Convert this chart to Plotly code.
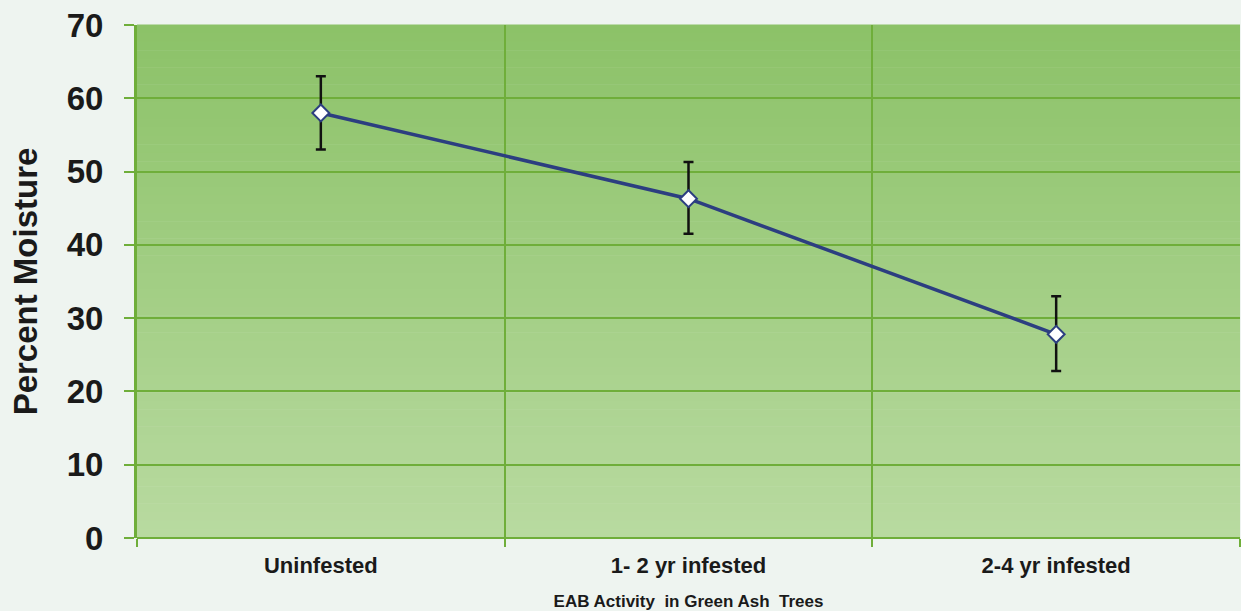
import plotly.graph_objects as go

categories = ["Uninfested", "1- 2 yr infested", "2-4 yr infested"]
moisture = [58.0, 46.3, 27.8]
err_plus = [5.0, 5.0, 5.2]
err_minus = [5.0, 4.8, 5.0]
y_ticks = [0, 10, 20, 30, 40, 50, 60, 70]

GREEN_LINE = "#6fae3a"
FONT = "Liberation Sans, Arial, sans-serif"

fig = go.Figure()
fig.add_trace(go.Scatter(
    x=categories, y=moisture, mode="lines+markers",
    line=dict(color="#2c3e80", width=3.5),
    marker=dict(symbol="diamond", size=13, color="white",
                line=dict(color="#2c3e80", width=2)),
    error_y=dict(type="data", symmetric=False, array=err_plus, arrayminus=err_minus,
                 color="#111111", thickness=2.5, width=5),
    showlegend=False,
))

# vertical gradient background stripes
n = 60
top = (140, 194, 104)
bot = (184, 218, 160)
shapes = []
for i in range(n):
    t = i / (n - 1)
    c = tuple(round(top[k] + (bot[k] - top[k]) * t) for k in range(3))
    shapes.append(dict(type="rect", xref="x domain", yref="y domain",
                       x0=0, x1=1, y0=1 - (i + 1) / n, y1=1 - i / n + 0.001,
                       fillcolor="rgb(%d,%d,%d)" % c, line=dict(width=0),
                       layer="below"))

fig.update_layout(
    width=1241, height=611,
    margin=dict(l=137, r=1, t=25, b=73),
    paper_bgcolor="#eef4f0",
    plot_bgcolor="rgba(0,0,0,0)",
    shapes=shapes,
    font=dict(family=FONT, color="#1a1a1a"),
    xaxis=dict(
        type="category", range=[-0.5, 2.5], tickson="boundaries",
        showgrid=True, gridcolor=GREEN_LINE, gridwidth=1.5,
        ticks="outside", ticklen=8, tickcolor=GREEN_LINE, tickwidth=2,
        showline=False, layer="below traces",
        ticklabelstandoff=12,
        tickfont=dict(size=22, family=FONT, color="#1a1a1a", weight="bold"),
        title=dict(text="<b>EAB Activity  in Green Ash  Trees</b>",
                   font=dict(size=17, family=FONT, color="#1a1a1a"), standoff=19),
    ),
    yaxis=dict(
        range=[0, 70], tickvals=y_ticks,
        showgrid=True, gridcolor=GREEN_LINE, gridwidth=1.5,
        ticks="outside", ticklen=10, tickcolor=GREEN_LINE, tickwidth=2,
        showline=True, linecolor=GREEN_LINE, linewidth=3,
        zeroline=True, zerolinecolor=GREEN_LINE, zerolinewidth=2,
        ticklabelstandoff=14,
        tickfont=dict(size=33, family=FONT, color="#1a1a1a", weight="bold"),
        title=dict(text="<b>Percent Moisture</b>",
                   font=dict(size=33, family=FONT, color="#1a1a1a"), standoff=20),
    ),
)

fig.write_html("out.html", config={"displayModeBar": False},
               post_script="document.body.style.margin='0';document.body.style.padding='0';")
